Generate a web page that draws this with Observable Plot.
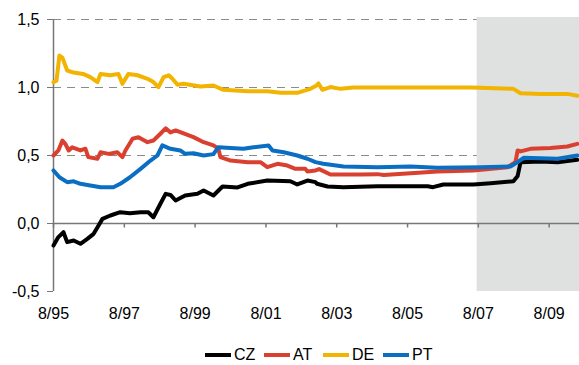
<!DOCTYPE html>
<html><head><meta charset="utf-8">
<script src="https://cdn.jsdelivr.net/npm/d3@7"></script>
<script src="https://cdn.jsdelivr.net/npm/@observablehq/plot@0.6"></script>
<style>
body{margin:0;background:#fff;font-family:"Liberation Sans",Arial,sans-serif;}
#wrap{position:relative;width:579px;height:365px;}
#legend{position:absolute;left:0;top:344px;width:579px;height:22px;}
.item{position:absolute;top:0;height:22px;display:flex;align-items:center;font-size:16px;color:#000;}
.sw{width:26px;height:4px;margin-right:3px;}
</style></head><body>
<div id="wrap"><div id="chart"></div><div id="legend"></div></div>
<script>
const seriesNames = ["CZ", "AT", "DE", "PT"];
const seriesColors = ["#000000", "#d9402f", "#f2b400", "#0a6fc2"];

const cz = [
["1995-08-01",-0.162],["1995-09-20",-0.10],["1995-11-12",-0.064],["1995-12-20",-0.137],
["1996-02-25",-0.125],["1996-05-05",-0.149],["1996-07-15",-0.113],["1996-09-18",-0.076],
["1996-11-08",-0.015],["1996-12-18",0.034],["1997-03-10",0.059],["1997-06-20",0.083],
["1997-09-28",0.076],["1998-01-15",0.083],["1998-04-05",0.083],["1998-05-28",0.046],
["1998-08-08",0.145],["1998-10-01",0.218],["1998-11-20",0.21],["1999-01-12",0.169],
["1999-04-20",0.206],["1999-08-25",0.218],["1999-10-28",0.243],["2000-02-06",0.206],
["2000-05-10",0.272],["2000-10-12",0.265],["2001-01-25",0.292],["2001-08-15",0.316],
["2002-04-10",0.311],["2002-06-20",0.287],["2002-10-03",0.316],["2002-12-25",0.304],
["2003-01-10",0.292],["2003-04-28",0.272],["2003-10-10",0.267],["2004-09-25",0.274],
["2006-02-25",0.274],["2006-04-20",0.267],["2006-08-05",0.287],["2007-06-12",0.287],
["2007-12-05",0.296],["2008-07-28",0.311],["2008-09-10",0.35],["2008-10-10",0.451],
["2009-05-03",0.455],["2009-10-28",0.451],["2010-05-18",0.468]
];
const at = [
["1995-08-01",0.50],["1995-09-20",0.537],["1995-11-01",0.61],["1995-12-01",0.586],
["1996-01-05",0.537],["1996-02-10",0.56],["1996-05-05",0.537],["1996-06-25",0.55],
["1996-07-25",0.488],["1996-10-28",0.476],["1996-11-28",0.524],["1997-02-20",0.512],
["1997-05-20",0.524],["1997-07-12",0.488],["1997-08-12",0.537],["1997-10-25",0.623],
["1997-12-25",0.635],["1998-03-28",0.598],["1998-05-28",0.61],["1998-08-08",0.66],
["1998-10-01",0.70],["1998-11-20",0.67],["1999-01-12",0.684],["1999-03-01",0.671],
["1999-07-15",0.635],["1999-10-28",0.598],["2000-02-06",0.574],["2000-03-28",0.55],
["2000-04-18",0.488],["2000-08-01",0.463],["2001-01-25",0.451],["2001-06-05",0.451],
["2001-08-15",0.414],["2001-11-28",0.439],["2002-03-10",0.426],["2002-06-01",0.402],
["2002-09-12",0.402],["2002-10-03",0.382],["2002-12-25",0.39],["2003-02-01",0.40],
["2003-05-28",0.36],["2004-04-02",0.36],["2004-09-25",0.363],["2004-11-28",0.356],
["2005-09-01",0.37],["2006-06-05",0.382],["2007-06-12",0.39],["2008-05-28",0.414],
["2008-08-18",0.451],["2008-09-10",0.537],["2008-10-10",0.53],["2009-01-20",0.549],
["2009-08-15",0.556],["2010-02-05",0.566],["2010-05-18",0.586]
];
const de = [
["1995-08-01",1.04],["1995-09-01",1.05],["1995-10-01",1.235],["1995-11-01",1.22],
["1995-12-20",1.125],["1996-02-25",1.11],["1996-06-01",1.10],["1996-08-15",1.076],
["1996-10-28",1.04],["1996-11-28",1.10],["1997-03-10",1.09],["1997-06-01",1.10],
["1997-07-12",1.027],["1997-09-12",1.10],["1997-12-15",1.09],["1998-03-28",1.064],
["1998-05-28",1.04],["1998-07-18",1.002],["1998-09-10",1.076],["1998-11-01",1.09],
["1998-12-10",1.064],["1999-02-01",1.02],["1999-04-03",1.027],["1999-09-25",1.007],
["2000-02-06",1.015],["2000-05-18",0.983],["2001-01-25",0.973],["2001-08-15",0.973],
["2002-01-01",0.961],["2002-06-20",0.961],["2002-11-03",0.99],["2003-01-05",1.015],
["2003-01-25",1.03],["2003-03-05",0.983],["2003-05-28",1.003],["2003-09-10",0.99],
["2004-01-20",1.0],["2005-06-01",1.0],["2007-06-01",1.0],["2008-07-28",0.99],
["2008-10-10",0.958],["2009-05-03",0.953],["2010-02-05",0.953],["2010-05-18",0.94]
];
const pt = [
["1995-08-01",0.39],["1995-10-01",0.34],["1995-12-20",0.304],["1996-02-25",0.31],
["1996-05-05",0.292],["1996-08-15",0.28],["1996-11-28",0.267],["1997-04-10",0.267],
["1997-06-20",0.292],["1997-09-28",0.34],["1998-01-15",0.402],["1998-04-28",0.463],
["1998-07-08",0.50],["1998-08-28",0.574],["1998-11-20",0.549],["1999-03-01",0.537],
["1999-04-20",0.512],["1999-07-15",0.517],["1999-10-28",0.50],["2000-02-06",0.51],
["2000-03-28",0.561],["2000-08-01",0.556],["2000-12-12",0.549],["2001-03-25",0.561],
["2001-08-28",0.574],["2001-10-08",0.537],["2002-02-01",0.524],["2002-06-20",0.50],
["2002-10-03",0.476],["2002-12-25",0.451],["2003-03-15",0.439],["2003-10-10",0.419],
["2004-09-25",0.414],["2005-09-01",0.419],["2006-06-05",0.41],["2007-08-25",0.414],
["2008-06-28",0.419],["2008-09-10",0.451],["2008-11-10",0.483],["2009-10-28",0.476],
["2010-05-18",0.50]
];

const xTicks = ["1995-08-01","1997-08-01","1999-08-01","2001-08-01","2003-08-01","2005-08-01","2007-08-01","2009-08-01"];
const xTickLabels = ["8/95","8/97","8/99","8/01","8/03","8/05","8/07","8/09"];
const yTicks = [-0.5, 0, 0.5, 1, 1.5];
const yTickLabels = ["-0,5", "0,0", "0,5", "1,0", "1,5"];
const gridValues = [0.5, 1, 1.5];
const xStart = "1995-08-01", xEnd = "2010-06-10";
const shadeStart = "2007-07-20";

const P = s => new Date(s);
const allSeries = [cz, at, de, pt];
const rows = allSeries.flatMap((arr, i) => arr.map(([d, v]) => ({date: P(d), value: v, s: seriesNames[i]})));
const xTickDates = xTicks.map(P);
const xLabel = new Map(xTickDates.map((d, i) => [+d, xTickLabels[i]]));
const yLabel = new Map(yTicks.map((v, i) => [v, yTickLabels[i]]));

const chart = Plot.plot({
  width: 579, height: 330,
  marginLeft: 53, marginRight: 0, marginTop: 19, marginBottom: 39,
  style: {fontFamily: '"Liberation Sans", Arial, sans-serif', fontSize: "16px", color: "#000", background: "transparent", overflow: "visible"},
  x: {type: "utc", domain: [P(xStart), P(xEnd)]},
  y: {domain: [-0.5, 1.5]},
  color: {domain: seriesNames, range: seriesColors},
  marks: [
    Plot.ruleY(gridValues, {stroke: "#8a8a8a", strokeWidth: 1, strokeDasharray: "8,6"}),
    Plot.rect([{x1: P(shadeStart), x2: P(xEnd), y1: -0.5, y2: 1.515}], {x1: "x1", x2: "x2", y1: "y1", y2: "y2", fill: "#dfe0e0"}),
    Plot.ruleY([0], {stroke: "#777", strokeWidth: 1.5}),
    Plot.ruleX(xTickDates, {x: d => d, y1: 0, y2: -0.033, stroke: "#777", strokeWidth: 1.5}),
    Plot.ruleX([P(xStart)], {y1: -0.5, y2: 1.5, stroke: "#777", strokeWidth: 1.5}),
    Plot.axisY(yTicks, {tickSize: 6, tickPadding: 8, tickFormat: v => yLabel.get(v), stroke: "#777", fontSize: 16}),
    Plot.axisX(xTickDates, {tickSize: 0, tickPadding: 16, tickFormat: d => xLabel.get(+d), fontSize: 16}),
    Plot.line(rows, {x: "date", y: "value", z: "s", stroke: "s", strokeWidth: 4, curve: "linear", strokeLinejoin: "round"})
  ]
});
document.getElementById("chart").appendChild(chart);

const lg = document.getElementById("legend");
const lefts = [205, 264, 323, 383];
seriesNames.forEach((n, i) => {
  const it = document.createElement("div");
  it.className = "item";
  it.style.left = lefts[i] + "px";
  it.innerHTML = `<div class="sw" style="background:${seriesColors[i]}"></div><span>${n}</span>`;
  lg.appendChild(it);
});
</script>
</body></html>
